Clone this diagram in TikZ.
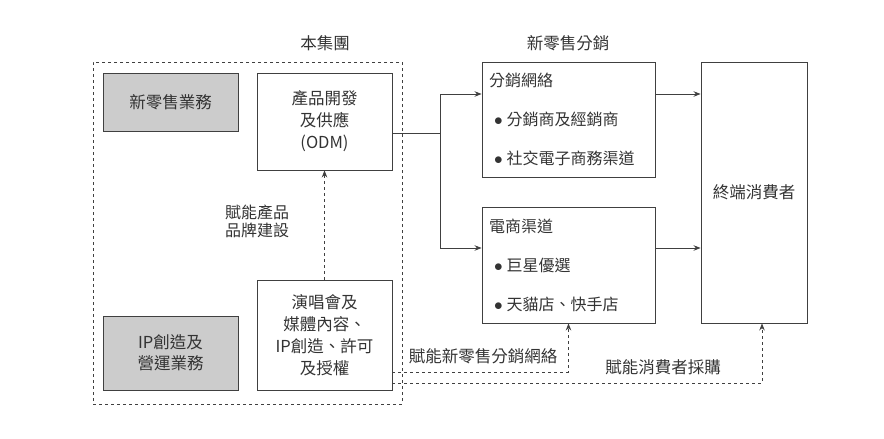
\documentclass[tikz,border=0pt]{standalone}
\usepackage{fontspec}
\setmainfont{Noto Sans CJK TC}
\usepackage{tikz}
\usetikzlibrary{arrows.meta}
\begin{document}
\begin{tikzpicture}[>={Stealth[length=7pt,width=5.5pt]},x=1pt,y=-1pt,line width=0.9pt,draw=black!75,
	every node/.style={text=black!80,font=\fontsize{16.5}{22}\selectfont},
	box/.style={draw=black!75,minimum width=135pt,align=center,inner sep=0pt},
	seg/.style={box,fill=black!20},
	chan/.style={draw=black!75,text width=159pt,inner xsep=7pt,inner ysep=0pt,align=left,minimum height=115pt,font=\fontsize{16}{39}\selectfont}
	]
		\useasboundingbox (0,0) rectangle (884,439);
		\node (group) at (325,43) {本集團};
		\node (dist) at (568,43) {新零售分銷};
		\node[draw=black!75,dashed,minimum width=309pt,minimum height=342pt,inner sep=0pt] (frame) at (247.5,233) {};
		\node[seg,minimum height=58pt] (retail) at (170.5,102) {新零售業務};
		\node[seg,minimum height=74pt,font=\fontsize{16.5}{21}\selectfont] (ip) at (170.5,353) {IP創造及\\營運業務};
		\node[box,minimum height=97pt] (odm) at (324.5,121.5) {產品開發\\及供應\\(ODM)};
		\node[box,minimum height=110pt] (show) at (324.5,335) {演唱會及\\媒體內容、\\IP創造、許可\\及授權};
		\node[chan] (net) at (568.5,119.5) {分銷網絡\\\hspace{5pt}$\bullet$\hspace{4pt}分銷商及經銷商\\\hspace{5pt}$\bullet$\hspace{4pt}社交電子商務渠道};
		\node[chan,minimum height=116pt] (ec) at (568.5,265) {電商渠道\\\hspace{5pt}$\bullet$\hspace{4pt}巨星優選\\\hspace{5pt}$\bullet$\hspace{4pt}天貓店、快手店};
		\node[draw=black!75,minimum width=106pt,minimum height=261pt] (cons) at (754,192.5) {終端消費者};
		\node[align=center,font=\fontsize{16}{18}\selectfont] (brand) at (257,221) {賦能產品\\品牌建設};
		\node (lnet) at (483,356) {賦能新零售分銷網絡};
		\node (lcons) at (663,367) {賦能消費者採購};
		\coordinate (split) at (440,133);
		\coordinate (upper) at (0,94);
		\coordinate (lower) at (0,248);
		\coordinate (dash1) at (0,372);
		\coordinate (dash2) at (762,383);
		\draw (odm.east |- split) -- (split);
		\draw[->] (split) |- (net.west |- upper);
		\draw[->] (split) |- (ec.west |- lower);
		\draw[->] (net.east |- upper) -- (cons.west |- upper);
		\draw[->] (ec.east |- lower) -- (cons.west |- lower);
		\draw[->,dashed] (show.north) -- (odm.south);
		\draw[->,dashed] (show.east |- dash1) -| (ec.south);
		\draw[->,dashed] (show.east |- dash2) -| (cons.south -| dash2);
		\end{tikzpicture}
\end{document}
